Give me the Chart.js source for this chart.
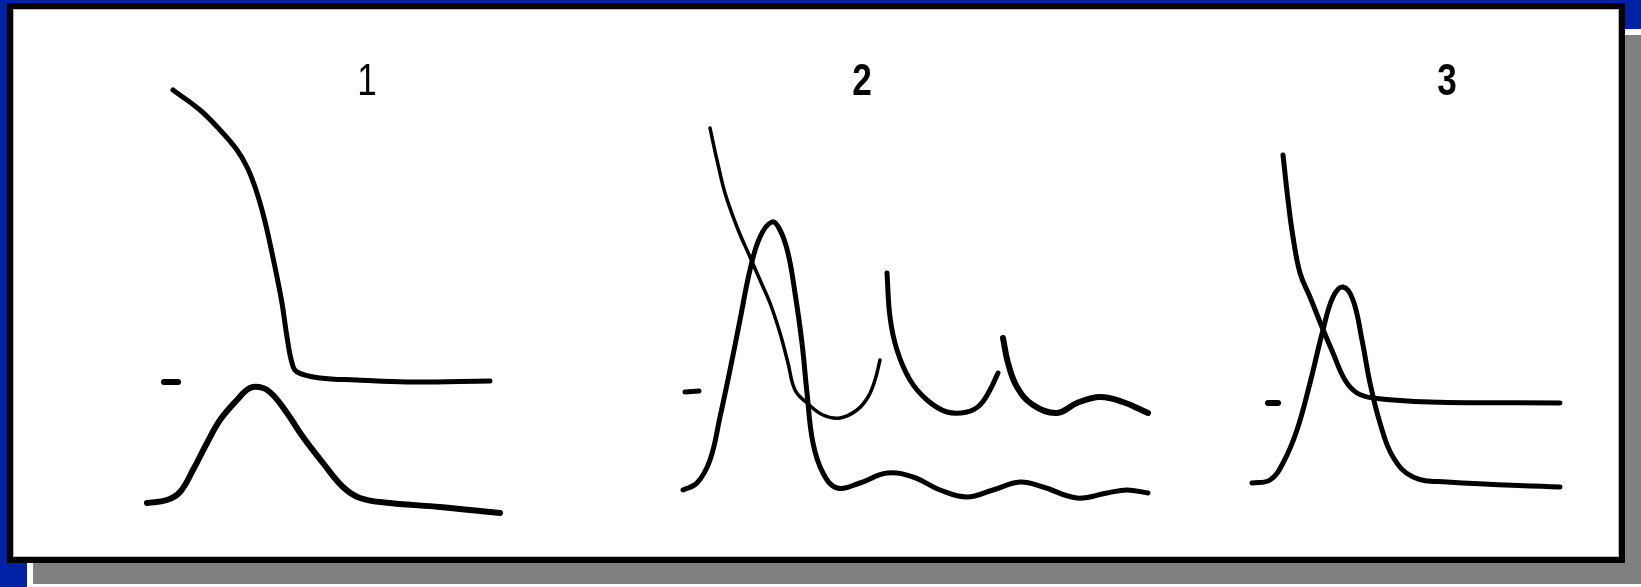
<!DOCTYPE html>
<html>
<head>
<meta charset="utf-8">
<title>Traces 1–3</title>
<script src="https://cdn.jsdelivr.net/npm/chart.js@4.4.1/dist/chart.umd.min.js"></script>
<style>
  html, body { margin: 0; padding: 0; }
  body { width: 1641px; height: 587px; background: #0023a6; position: relative; overflow: hidden; }
  #shadow { position: absolute; left: 27px; top: 29px; width: 1620px; height: 558px; background: #ffffff; }
  #shadow div { position: absolute; left: 6px; top: 6px; right: 0; bottom: 3px; background: #808080; }
  #frame { position: absolute; left: 7px; top: 3px; width: 1606px; height: 548px; border: 6px solid #000; background: #fff; box-shadow: inset 0 0 0 1px #b8b8b8; }
  #plot { position: absolute; left: 0; top: 0; }
</style>
</head>
<body>
<div id="shadow"><div></div></div>
<div id="frame"><canvas id="plot" width="1606" height="548"></canvas></div>
<script>
// Time along each record (x) and signal level above the baseline (y).
const panelNames = ['1', '2', '3'];
const panelNameAt = [354, 849, 1434];
const panelNameLevel = 462;

// Record 1
const upper1 = [[160,467],[187,447],[207,427],[224,407],[234,390],[242,370],[249,347],[254,327],[259,304],[264,280],[269,254],[274,220],[279,194],[284,185],[307,179],[344,177],[394,175],[477,176]];
const lower1 = [[134,54],[154,57],[167,65],[180,87],[194,114],[207,137],[224,157],[237,169],[250,169],[260,162],[274,144],[290,120],[310,94],[330,70],[347,59],[377,54],[427,50],[487,44]];
const mark1 = [[151,175],[165,175]];

// Record 2 (upper trace is recorded in three pieces)
const upper2a = [[697,429],[704,397],[712,364],[724,330],[737,300],[747,277],[757,254],[767,224],[775,194],[782,167],[794,154],[810,142],[827,139],[844,147],[855,160],[862,177],[867,197]];
const upper2b = [[874,284],[877,240],[884,207],[897,177],[914,157],[934,145],[954,145],[967,152],[977,167],[985,184]];
const upper2c = [[990,219],[995,194],[1004,170],[1020,152],[1044,144],[1064,154],[1087,160],[1110,155],[1135,144]];
const lower2 = [[670,67],[684,74],[697,97],[707,140],[717,187],[727,237],[737,287],[747,320],[759,335],[767,327],[775,304],[782,264],[789,214],[794,164],[800,114],[810,84],[824,69],[847,74],[874,84],[900,80],[927,67],[954,60],[980,67],[1007,75],[1030,70],[1064,59],[1094,64],[1114,67],[1135,64]];
const mark2 = [[672,165],[686,166]];

// Record 3
const upper3 = [[1270,402],[1275,357],[1280,320],[1287,284],[1297,260],[1309,230],[1320,204],[1332,177],[1344,164],[1360,159],[1417,155],[1547,154]];
const lower3 = [[1239,74],[1257,77],[1270,94],[1284,127],[1297,174],[1310,227],[1320,260],[1330,270],[1340,257],[1349,217],[1357,174],[1367,134],[1380,100],[1400,80],[1434,75],[1547,70]];
const mark3 = [[1255,154],[1265,154]];

const toPoints = arr => arr.map(([x, y]) => ({ x, y }));

function trace(points, width) {
  return {
    data: toPoints(points),
    showLine: true,
    borderColor: '#000',
    borderWidth: width,
    pointRadius: 0,
    tension: 0.4,
    borderCapStyle: 'round',
    borderJoinStyle: 'round',
    clip: false
  };
}

const panelLabels = {
  id: 'panelLabels',
  afterDatasetsDraw(chart) {
    const { ctx, scales } = chart;
    ctx.save();
    ctx.fillStyle = '#000';
    ctx.textAlign = 'center';
    ctx.textBaseline = 'alphabetic';
    panelNames.forEach((name, i) => {
      const px = scales.x.getPixelForValue(panelNameAt[i]);
      const py = scales.y.getPixelForValue(panelNameLevel);
      ctx.save();
      ctx.translate(px, py);
      ctx.scale(0.8, 1);
      ctx.font = (name === '1' ? '' : 'bold ') + '44px "Liberation Sans", Arial, sans-serif';
      ctx.fillText(name, 0, 0);
      ctx.restore();
    });
    ctx.restore();
  }
};

new Chart(document.getElementById('plot'), {
  type: 'scatter',
  data: {
    datasets: [
      trace(upper1, 5), trace(lower1, 6), trace(mark1, 6),
      trace(upper2a, 3.5), trace(upper2b, 5), trace(upper2c, 6), trace(lower2, 5), trace(mark2, 5),
      trace(upper3, 5), trace(lower3, 5), trace(mark3, 6)
    ]
  },
  options: {
    responsive: false,
    animation: false,
    devicePixelRatio: 1,
    layout: { padding: 0 },
    plugins: { legend: { display: false }, tooltip: { enabled: false } },
    scales: {
      x: { type: 'linear', min: 0, max: 1606, display: false },
      y: { type: 'linear', min: 0, max: 548, display: false }
    }
  },
  plugins: [panelLabels]
});
</script>
</body>
</html>
